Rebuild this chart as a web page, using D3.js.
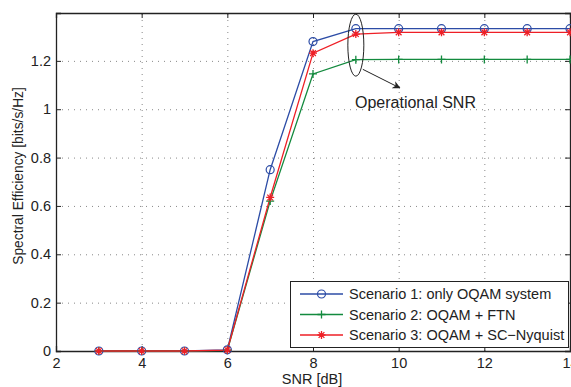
<!DOCTYPE html>
<html>
<head>
<meta charset="utf-8">
<script src="https://d3js.org/d3.v7.min.js"></script>
<style>
  body { margin: 0; background: #fff; }
  text { font-family: "Liberation Sans", Arial, sans-serif; fill: #222; }
</style>
</head>
<body>
<div id="chart"></div>
<script>
// data
const snr = [3, 4, 5, 6, 7, 8, 9, 10, 11, 12, 13, 14];
const scenario1 = [0, 0, 0, 0.005, 0.75, 1.28, 1.333, 1.333, 1.333, 1.333, 1.333, 1.333];
const scenario2 = [0, 0, 0, 0.003, 0.62, 1.146, 1.205, 1.206, 1.206, 1.206, 1.206, 1.206];
const scenario3 = [0, 0, 0, 0.004, 0.635, 1.232, 1.311, 1.318, 1.318, 1.318, 1.318, 1.318];
const xTicks = [2, 4, 6, 8, 10, 12, 14];
const yTicks = [0, 0.2, 0.4, 0.6, 0.8, 1, 1.2];
const seriesNames = ["Scenario 1: only OQAM system", "Scenario 2: OQAM + FTN", "Scenario 3: OQAM + SC\u2212Nyquist"];

const width = 571, height = 387;
const m = {left: 56, right: 1, top: 13, bottom: 36};
const fs = 14.5;

const svg = d3.select("#chart").append("svg")
  .attr("width", width).attr("height", height);

const x = d3.scaleLinear().domain([2, 14]).range([m.left, width - m.right]);
const y = d3.scaleLinear().domain([0, 1.398]).range([height - m.bottom, m.top]);

// grid
const grid = svg.append("g").attr("stroke", "#888").attr("stroke-width", 1)
  .attr("stroke-dasharray", "1,5");
grid.selectAll(".gx").data(xTicks.slice(1, -1)).enter().append("line")
  .attr("x1", d => x(d) + 0.5).attr("x2", d => x(d) + 0.5)
  .attr("y1", y(0)).attr("y2", m.top);
grid.selectAll(".gy").data(yTicks.slice(1)).enter().append("line")
  .attr("y1", d => y(d) + 0.5).attr("y2", d => y(d) + 0.5)
  .attr("x1", x(2)).attr("x2", x(14));

// axes with inward ticks
const xAxis = svg.append("g").attr("transform", `translate(0,${y(0)})`)
  .call(d3.axisBottom(x).tickValues(xTicks).tickSize(-5).tickPadding(7).tickFormat(d3.format("d")));
const xTop = svg.append("g").attr("transform", `translate(0,${m.top})`)
  .call(d3.axisTop(x).tickValues(xTicks).tickSize(-5).tickFormat(""));
const yAxis = svg.append("g").attr("transform", `translate(${x(2)},0)`)
  .call(d3.axisLeft(y).tickValues(yTicks).tickSize(-5).tickPadding(5).tickFormat(d3.format("~g")));
const yRight = svg.append("g").attr("transform", `translate(${x(14)},0)`)
  .call(d3.axisRight(y).tickValues(yTicks).tickSize(-5).tickFormat(""));
[xAxis, xTop, yAxis, yRight].forEach(g => {
  g.select(".domain").attr("stroke", "#222").attr("stroke-width", 1.3);
  g.selectAll(".tick line").attr("stroke", "#222");
  g.selectAll("text").attr("font-size", fs).attr("fill", "#222")
    .attr("font-family", "Liberation Sans, Arial, sans-serif");
});

// axis titles
svg.append("text").attr("x", 312).attr("y", 384)
  .attr("text-anchor", "middle").attr("font-size", fs).text("SNR [dB]");
svg.append("text").attr("transform", `translate(23,176) rotate(-90)`)
  .attr("text-anchor", "middle").attr("font-size", 13.8).text("Spectral Efficiency [bits/s/Hz]");

const series = [
  {name: seriesNames[0], vals: scenario1, color: "#2c4ca6", marker: "circle"},
  {name: seriesNames[1], vals: scenario2, color: "#138a3e", marker: "plus"},
  {name: seriesNames[2], vals: scenario3, color: "#ee1f26", marker: "star"}
];

function drawMarker(g, kind, cx, cy, color) {
  if (kind === "circle") {
    g.append("circle").attr("cx", cx).attr("cy", cy).attr("r", 4)
      .attr("fill", "none").attr("stroke", color).attr("stroke-width", 1.2);
  } else if (kind === "plus") {
    g.append("path").attr("d", `M${cx - 4},${cy}H${cx + 4}M${cx},${cy - 4}V${cy + 4}`)
      .attr("stroke", color).attr("stroke-width", 1.3);
  } else {
    const r = 4;
    let d = `M${cx - r},${cy}H${cx + r}M${cx},${cy - r}V${cy + r}`;
    const k = r * 0.72;
    d += `M${cx - k},${cy - k}L${cx + k},${cy + k}M${cx - k},${cy + k}L${cx + k},${cy - k}`;
    g.append("path").attr("d", d).attr("stroke", color).attr("stroke-width", 1.3);
  }
}

const line = d3.line().x(d => x(d[0])).y(d => y(d[1]));
const plot = svg.append("g");
series.forEach(s => {
  const pts = snr.map((v, i) => [v, s.vals[i]]);
  plot.append("path").datum(pts).attr("d", line)
    .attr("fill", "none").attr("stroke", s.color).attr("stroke-width", 1.3);
});
series.forEach(s => {
  snr.forEach((v, i) => drawMarker(plot, s.marker, x(v), y(s.vals[i]), s.color));
});

// annotation
svg.append("ellipse").attr("cx", x(9)).attr("cy", y(1.265)).attr("rx", 8).attr("ry", 31)
  .attr("fill", "none").attr("stroke", "#222").attr("stroke-width", 1);
svg.append("defs").append("marker").attr("id", "arr").attr("viewBox", "0 0 10 10")
  .attr("refX", 9).attr("refY", 5).attr("markerWidth", 8).attr("markerHeight", 8)
  .attr("orient", "auto").append("path").attr("d", "M0,0L10,5L0,10L3,5Z").attr("fill", "#222");
svg.append("line").attr("x1", x(9) + 7).attr("y1", y(1.165)).attr("x2", x(9) + 44).attr("y2", y(1.088))
  .attr("stroke", "#222").attr("stroke-width", 1).attr("marker-end", "url(#arr)");
svg.append("text").attr("x", 355).attr("y", 107.5).attr("font-size", 16).text("Operational SNR");

// legend
const lg = svg.append("g");
lg.append("rect").attr("x", 290.5).attr("y", 281.5).attr("width", 278).attr("height", 66)
  .attr("fill", "#fff").attr("stroke", "#222").attr("stroke-width", 1);
series.forEach((s, i) => {
  const ly = 294 + i * 20.5;
  lg.append("line").attr("x1", 300).attr("x2", 343).attr("y1", ly).attr("y2", ly)
    .attr("stroke", s.color).attr("stroke-width", 1.3);
  drawMarker(lg, s.marker, 321.5, ly, s.color);
  lg.append("text").attr("x", 349).attr("y", ly + 5).attr("font-size", fs).text(s.name);
});
</script>
</body>
</html>
